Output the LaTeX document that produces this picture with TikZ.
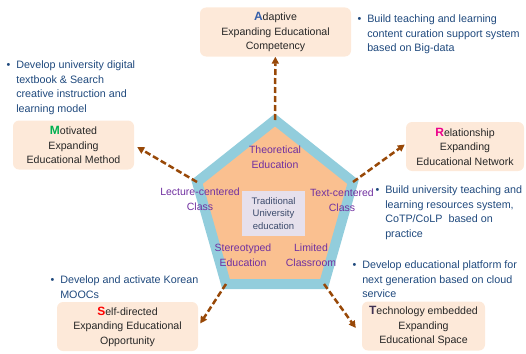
\documentclass[tikz,border=0pt]{standalone}
\usepackage{fontspec}
\setmainfont{Liberation Sans}
\usetikzlibrary{arrows.meta,positioning}

\definecolor{boxfill}{HTML}{FDE9D9}
\definecolor{penta}{HTML}{FAC090}
\definecolor{rim}{HTML}{92CDDC}
\definecolor{lavender}{HTML}{E6E0EC}
\definecolor{rust}{HTML}{984807}
\definecolor{facetcol}{HTML}{7030A0}
\definecolor{notecol}{HTML}{1F497D}
\definecolor{corecol}{HTML}{3B4A6B}
\definecolor{capA}{RGB}{54,96,170}
\definecolor{capM}{HTML}{00B050}
\definecolor{capR}{RGB}{236,0,140}
\definecolor{capS}{HTML}{FF0000}
\definecolor{capT}{HTML}{403152}

% coloured bold initial of each goal
\newcommand{\capletter}[2]{{\color{#1}\fontsize{12}{14.5}\selectfont\bfseries #2}}

\begin{document}
\begin{tikzpicture}[x=1pt,y=-1pt]
\tikzset{
    goal/.style={
           rectangle,
           rounded corners=6pt,
           fill=boxfill,
           minimum height=49pt,
           align=center,
           text=black!85,
           font=\fontsize{10.6}{14.5}\selectfont},
    facet/.style={
           align=center,
           text=facetcol,
           font=\fontsize{10.5}{14.5}\selectfont},
    note/.style={
           anchor=north west,
           inner sep=0pt,
           text=notecol,
           font=\fontsize{10.75}{14.6}\selectfont},
    % Define arrow style
    arrow/.style= {
           -{Triangle[length=7pt,width=7pt]},
           rust,
           line width=2.5pt,
           dash pattern=on 6pt off 3pt
    }
}
\useasboundingbox (0,0) rectangle (526,353);

% pentagon
\coordinate (pt) at (275,120);
\coordinate (pr) at (353,182);
\coordinate (pbr) at (324,284);
\coordinate (pbl) at (226,284);
\coordinate (pl) at (197,182);
\filldraw[fill=penta,draw=rim,line width=10pt,line join=miter] (pt) -- (pr) -- (pbr) -- (pbl) -- (pl) -- cycle;

\node[facet] (theory) at (275,157) {Theoretical\\Education};
\node[facet] (lecture) at (200,199) {Lecture-centered\\Class};
\node[facet] (textcls) at (342,200) {Text-centered\\Class};
\node[facet] (stereo) at (243,255) {Stereotyped\\Education};
\node[facet] (limited) at (311,255) {Limited\\Classroom};
\node[fill=lavender,minimum width=63pt,minimum height=45pt,align=center,text=corecol,
      font=\fontsize{9.5}{12.5}\selectfont] (core) at (273.5,213.5) {Traditional\\University\\education};

% goals
\node[goal,minimum width=151pt] (adaptive) at (275.5,32) {\capletter{capA}{A}daptive\\Expanding Educational\\Competency};
\node[goal,minimum width=121pt] (motivated) at (73.5,145) {\capletter{capM}{M}otivated\\Expanding\\Educational Method};
\node[goal,minimum width=118pt] (relationship) at (465,146.5) {\capletter{capR}{R}elationship\\Expanding\\Educational Network};
\node[goal,minimum width=141pt] (selfdir) at (127.5,326.5) {\capletter{capS}{S}elf-directed\\Expanding Educational\\Opportunity};
\node[goal,minimum width=123pt] (technology) at (423.5,326) {\capletter{capT}{T}echnology embedded\\Expanding\\Educational Space};

% notes
\node[note] (bigdata) at (357.3,12) {\begin{tabular}{@{}l@{\hspace{6pt}}l@{}}
  \textbullet & Build teaching and learning\\
   & content curation support system\\
   & based on Big-data\end{tabular}};
\node[note] (textbook) at (6.3,58) {\begin{tabular}{@{}l@{\hspace{6pt}}l@{}}
  \textbullet & Develop university digital\\
   & textbook \& Search\\
   & creative instruction and\\
   & learning model\end{tabular}};
\node[note] (resources) at (375.3,183) {\begin{tabular}{@{}l@{\hspace{6pt}}l@{}}
  \textbullet & Build university teaching and\\
   & learning resources system,\\
   & CoTP/CoLP \ based on\\
   & practice\end{tabular}};
\node[note] (cloud) at (352.3,258) {\begin{tabular}{@{}l@{\hspace{6pt}}l@{}}
  \textbullet & Develop educational platform for\\
   & next generation based on cloud\\
   & service\end{tabular}};
\node[note] (moocs) at (50.3,273) {\begin{tabular}{@{}l@{\hspace{6pt}}l@{}}
  \textbullet & Develop and activate Korean\\
   & MOOCs\end{tabular}};

\draw[arrow] (pt) -- (adaptive);
\draw[arrow] (pl) -- ([shift={(3pt,-2pt)}]motivated.east);
\draw[arrow] (pr) -- ([shift={(-1pt,2pt)}]relationship.west);
\draw[arrow] (pbl) -- ([shift={(2pt,3pt)}]selfdir.east);
\draw[arrow] (pbr) -- ([shift={(-6pt,-2pt)}]technology.west);
\end{tikzpicture}
\end{document}
